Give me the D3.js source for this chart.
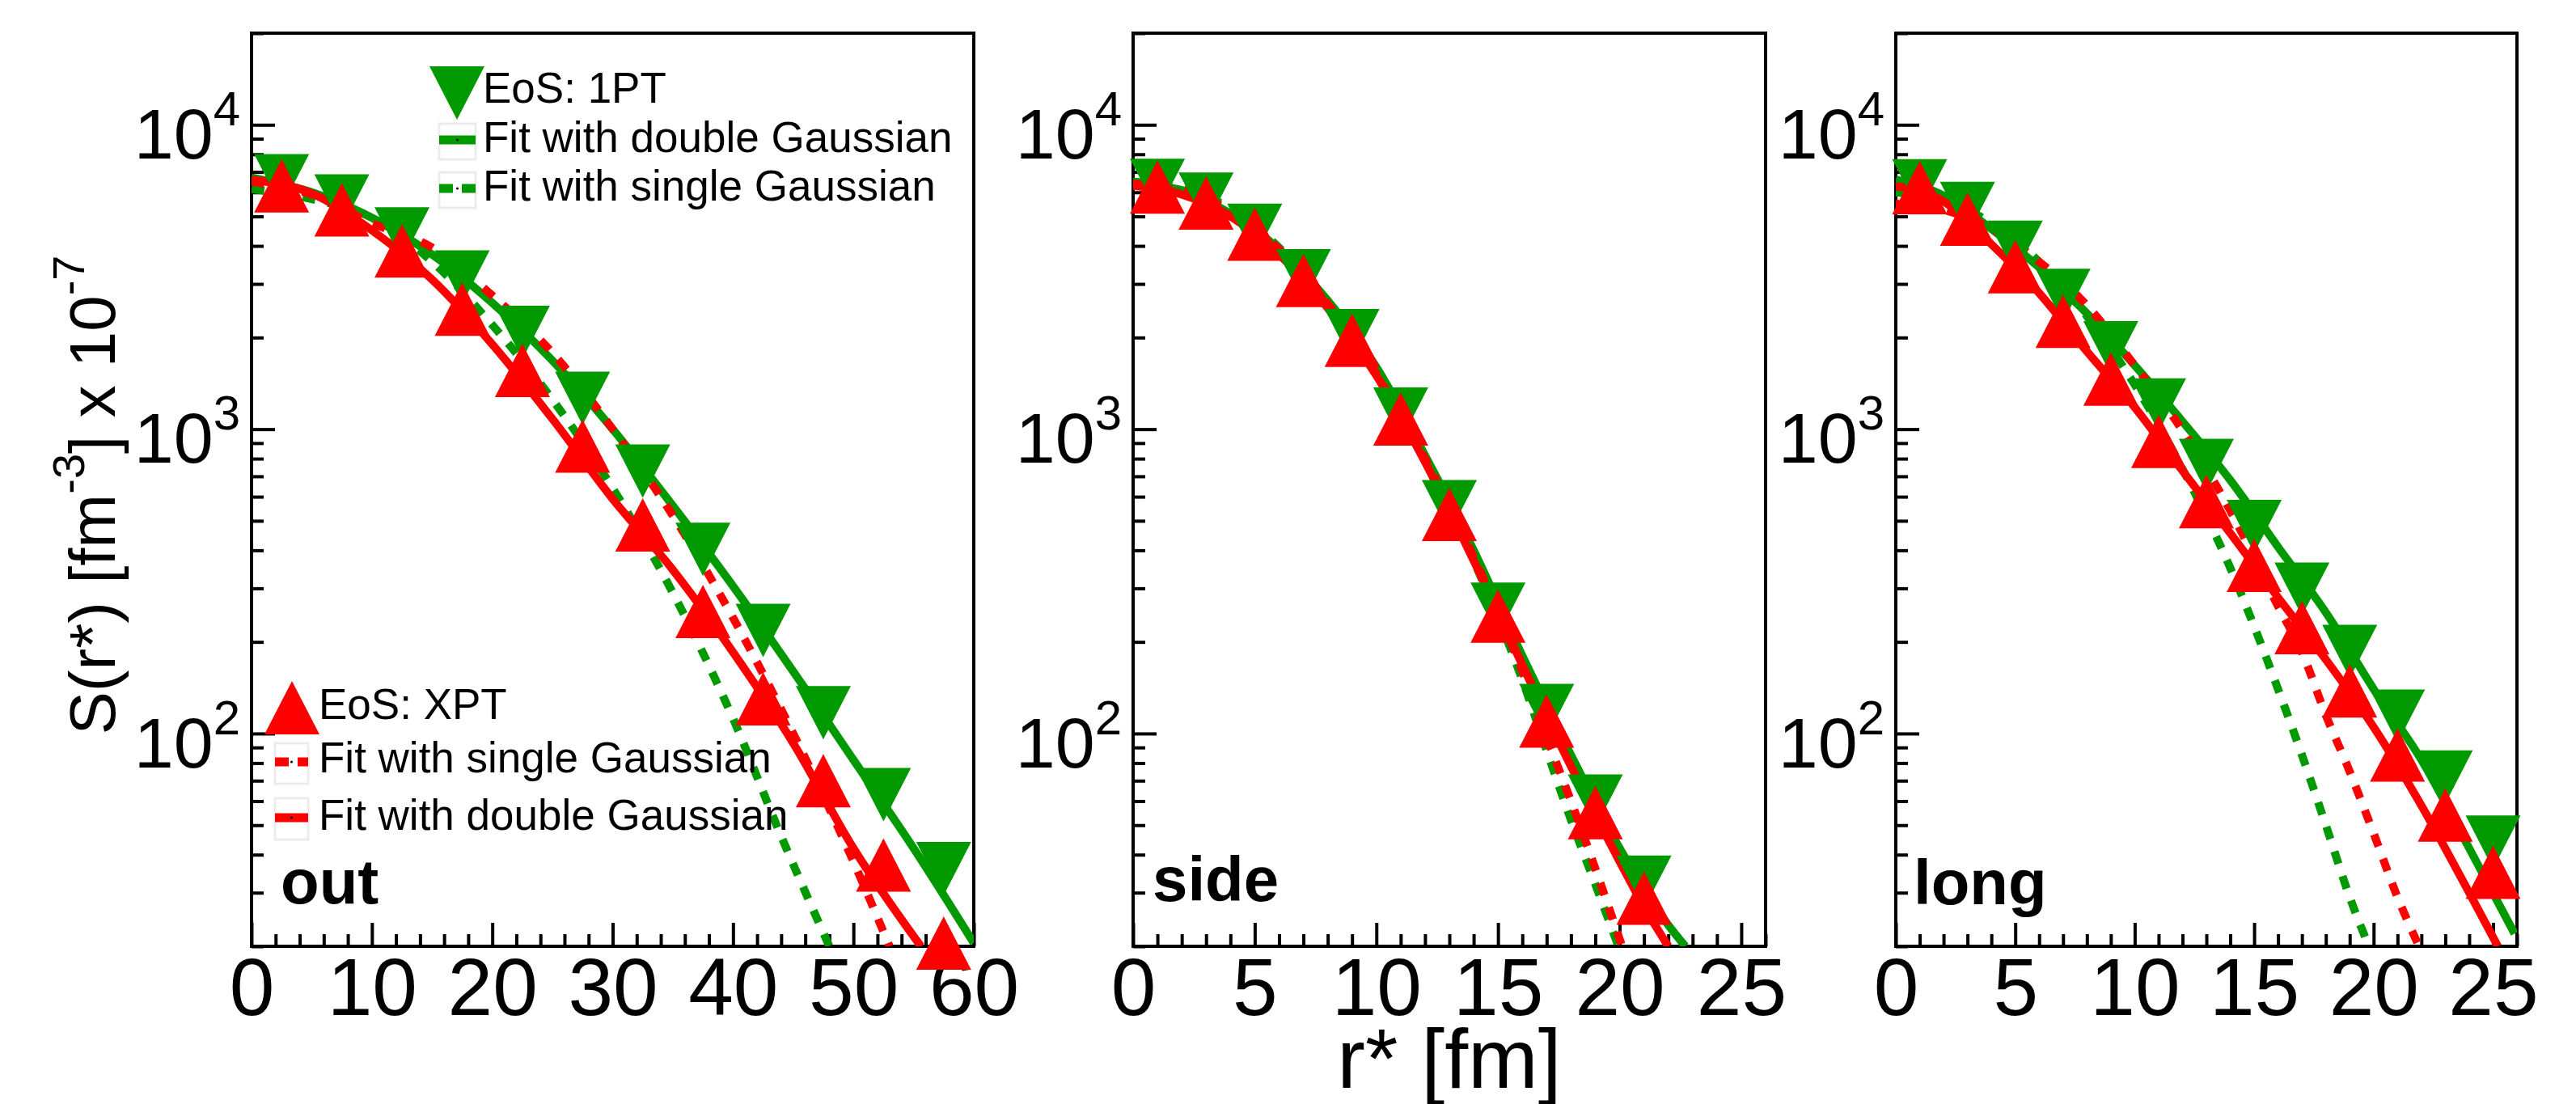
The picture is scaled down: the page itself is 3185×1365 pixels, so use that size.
<!DOCTYPE html>
<html>
<head>
<meta charset="utf-8">
<script src="https://cdn.jsdelivr.net/npm/d3@7"></script>
<style>
  body { margin: 0; background: #fff; }
  text { font-family: "Liberation Sans", Arial, Helvetica, sans-serif; }
</style>
</head>
<body>
<div id="chart"></div>
<script>
// ---- data ----
// out
const rOut = [2.5, 7.5, 12.5, 17.5, 22.5, 27.5, 32.5, 37.5, 42.5, 47.5, 52.5, 57.5];
const out1PT = [6550, 5620, 4380, 3160, 2080, 1263, 728, 403, 218, 117, 63, 36];
const outXPT = [6300, 5250, 3850, 2480, 1560, 880, 485, 252, 130, 70, 37, 20.5];
const fitOut1PTDouble = [[0,6700],[5,6000],[10,4950],[15,3750],[20,2600],[25,1680],[30,1000],[35,560],[40,305],[45,160],[50,82],[55,42],[60,20.5]];
const fitOut1PTSingle = [[0,6150],[5,5700],[10,4950],[15,3550],[20,2200],[25,1250],[30,640],[35,290],[40,112],[44,46],[48,20]];
const fitOutXPTSingle = [[0,6500],[5,5900],[10,4750],[15,3950],[20,2750],[25,1780],[30,1000],[35,520],[40,240],[45,100],[50,38],[53,20]];
const fitOutXPTDouble = [[0,6600],[5,5950],[10,4500],[15,3100],[20,1900],[25,1080],[30,590],[35,345],[40,185],[45,93],[50,42],[55.6,20]];

// side
const rSide = [1, 3, 5, 7, 9, 11, 13, 15, 17, 19, 21];
const side1PT = [6320, 5700, 4500, 3190, 2030, 1120, 556, 256, 119, 60, 32.5];
const sideXPT = [6240, 5530, 4370, 3080, 1960, 1080, 525, 243, 110, 55, 28.8];
const fitSide1PTDouble = [[0,6400],[2,6100],[4,5100],[6,3900],[8,2650],[10,1600],[12,820],[14,400],[16,180],[18,85],[20,42],[22,23.5],[22.7,20]];
const fitSide1PTSingle = [[0,6500],[2,6200],[4,5300],[6,3950],[8,2600],[10,1520],[12,800],[14,370],[16,150],[17,88],[18,52],[19,32],[20,19.5]];
const fitSideXPTSingle = [[0,6400],[2,6100],[4,5200],[6,3900],[8,2580],[10,1520],[12,800],[14,380],[16,160],[17,97],[18,60],[19,36],[20.1,20]];
const fitSideXPTDouble = [[0,6300],[2,5900],[4,5000],[6,3750],[8,2500],[10,1500],[12,780],[14,370],[16,168],[18,78],[20,38],[21,27],[22,20]];

// long
const rLong = [1, 3, 5, 7, 9, 11, 13, 15, 17, 19, 21, 23, 25];
const long1PT = [6300, 5310, 3960, 2750, 1850, 1200, 760, 479, 298, 186, 114, 72, 44];
const longXPT = [6220, 4900, 3420, 2260, 1460, 912, 578, 357, 223, 138, 85, 54, 35];
const fitLong1PTDouble = [[0,6600],[2,5850],[4,4550],[6,3400],[8,2400],[10,1620],[12,1060],[14,680],[16,410],[18,250],[20,140],[22,82],[24,42],[25.9,22]];
const fitLong1PTSingle = [[0,6000],[2,5650],[4,4750],[6,3550],[8,2350],[10,1400],[12,740],[14,350],[15,225],[16,140],[17,85],[18,50],[19,29],[19.8,20]];
const fitLongXPTSingle = [[0,5500],[2,5250],[4,4550],[6,3550],[8,2550],[10,1620],[12,990],[14,540],[16,262],[17,185],[18,115],[19,75],[20,47],[21,29],[21.9,20]];
const fitLongXPTDouble = [[0,6300],[2,5600],[4,4050],[6,2800],[8,1800],[10,1180],[12,730],[14,455],[16,280],[18,175],[20,105],[22,58],[24,30],[25.2,20]];

// axes
const yDomain = [20, 20000];
const yMajor = [100, 1000, 10000];
const xTicksOut = [0, 10, 20, 30, 40, 50, 60];
const xTicksSide = [0, 5, 10, 15, 20, 25];
const xTicksLong = [0, 5, 10, 15, 20, 25];

// ---- drawing ----
const width = 3185, height = 1365;
const green = "#009900", red = "#ff0000";
const top_ = 41, bottom = 1170;

const svg = d3.select("#chart").append("svg")
  .attr("width", width).attr("height", height)
  .style("display", "block");
svg.append("rect").attr("width", width).attr("height", height).attr("fill", "#fff");

const panels = [
  {key: "out", left: 311, right: 1204, xMax: 60, major: xTicksOut, minorStep: 2,
   r: rOut, s1: out1PT, sx: outXPT,
   fits: [[fitOut1PTSingle, green, true], [fitOut1PTDouble, green, false], [fitOutXPTSingle, red, true], [fitOutXPTDouble, red, false]],
   tagX: 347, tagY: 1117},
  {key: "side", left: 1401, right: 2183, xMax: 26, major: xTicksSide, minorStep: 1,
   r: rSide, s1: side1PT, sx: sideXPT,
   fits: [[fitSide1PTSingle, green, true], [fitSide1PTDouble, green, false], [fitSideXPTSingle, red, true], [fitSideXPTDouble, red, false]],
   tagX: 1425, tagY: 1114},
  {key: "long", left: 2344, right: 3112, xMax: 26, major: xTicksLong, minorStep: 1,
   r: rLong, s1: long1PT, sx: longXPT,
   fits: [[fitLong1PTSingle, green, true], [fitLong1PTDouble, green, false], [fitLongXPTSingle, red, true], [fitLongXPTDouble, red, false]],
   tagX: 2366, tagY: 1118}
];

// triangle markers centred on their bounding box (ROOT style)
const mw = 68, mh = 66;
const triUp = `M0,${-mh/2}L${mw/2},${mh/2}L${-mw/2},${mh/2}Z`;
const triDown = `M0,${mh/2}L${mw/2},${-mh/2}L${-mw/2},${-mh/2}Z`;

function styleAxis(g, fontSize) {
  g.select(".domain").remove();
  g.attr("font-family", null).attr("font-size", fontSize);
  g.selectAll(".tick line").attr("stroke", "#000").attr("stroke-width", 4);
  g.selectAll(".tick text").attr("fill", "#000");
}

function drawPanel(p) {
  const x = d3.scaleLinear().domain([0, p.xMax]).range([p.left, p.right]);
  const y = d3.scaleLog().domain(yDomain).range([bottom, top_]);

  // frame
  svg.append("rect")
    .attr("x", p.left).attr("y", top_)
    .attr("width", p.right - p.left).attr("height", bottom - top_)
    .attr("fill", "none").attr("stroke", "#000").attr("stroke-width", 4);

  // x axis, ticks pointing inside
  const minorX = d3.range(0, p.xMax + 1e-9, p.minorStep).filter(v => !p.major.includes(v));
  svg.append("g").attr("transform", `translate(0,${bottom})`)
    .call(d3.axisBottom(x).tickValues(minorX).tickSize(-15).tickFormat(""))
    .call(g => styleAxis(g, 100));
  svg.append("g").attr("transform", `translate(0,${bottom})`)
    .call(d3.axisBottom(x).tickValues(p.major).tickSize(-29).tickPadding(14).tickFormat(d3.format("d")))
    .call(g => styleAxis(g, 100));

  // y axis (log), minor ticks 2..9 each decade
  const minorY = y.ticks().filter(v => !yMajor.includes(v));
  svg.append("g").attr("transform", `translate(${p.left},0)`)
    .call(d3.axisLeft(y).tickValues(minorY).tickSize(-15).tickFormat(""))
    .call(g => styleAxis(g, 88));
  svg.append("g").attr("transform", `translate(${p.left},0)`)
    .call(d3.axisLeft(y).tickValues(yMajor).tickSize(-29).tickPadding(14).tickFormat(""))
    .call(g => styleAxis(g, 88))
    .call(g => g.selectAll(".tick text").each(function(d) {
      const t = d3.select(this).attr("dy", "0.47em");
      t.append("tspan").text("10");
      t.append("tspan").attr("dy", -41).attr("font-size", 60).text(Math.round(Math.log10(d)));
    }));

  // fit curves, clipped to the frame
  const clipId = "clip-" + p.key;
  svg.append("clipPath").attr("id", clipId)
    .append("rect").attr("x", p.left).attr("y", top_)
    .attr("width", p.right - p.left).attr("height", bottom - top_);

  const line = d3.line()
    .x(d => x(d[0]))
    .y(d => y(d[1]))
    .curve(d3.curveMonotoneX);

  svg.append("g").attr("clip-path", `url(#${clipId})`)
    .selectAll("path")
    .data(p.fits)
    .enter()
    .append("path")
    .attr("d", d => line(d[0]))
    .attr("fill", "none")
    .attr("stroke", d => d[1])
    .attr("stroke-width", 10)
    .attr("stroke-dasharray", d => d[2] ? "16,16" : null);

  // markers: 1PT down triangles then XPT up triangles on top
  svg.append("g").selectAll("path")
    .data(p.r.map((r, i) => [r, p.s1[i]]))
    .enter().append("path")
    .attr("d", triDown)
    .attr("transform", d => `translate(${x(d[0])},${y(d[1])})`)
    .attr("fill", green);
  svg.append("g").selectAll("path")
    .data(p.r.map((r, i) => [r, p.sx[i]]))
    .enter().append("path")
    .attr("d", triUp)
    .attr("transform", d => `translate(${x(d[0])},${y(d[1])})`)
    .attr("fill", red);

  svg.append("text")
    .attr("x", p.tagX).attr("y", p.tagY)
    .attr("font-size", 78).attr("font-weight", "bold")
    .text(p.key);
}

panels.forEach(drawPanel);

// ---- legends (inside the "out" pad) ----
function legendLine(x0, x1, yc, boxTop, boxBottom, color, dotted) {
  svg.append("rect")
    .attr("x", x0).attr("y", boxTop)
    .attr("width", x1 - x0).attr("height", boxBottom - boxTop)
    .attr("fill", "none").attr("stroke", "#ececec").attr("stroke-width", 3);
  svg.append("line")
    .attr("x1", x0).attr("x2", x1).attr("y1", yc).attr("y2", yc)
    .attr("stroke", color).attr("stroke-width", 11)
    .attr("stroke-dasharray", dotted ? "17,11" : null);
  svg.append("circle").attr("cx", (x0 + x1) / 2).attr("cy", yc).attr("r", 1.5).attr("fill", "#000");
}
function legendText(x0, yb, s) {
  svg.append("text").attr("x", x0).attr("y", yb).attr("font-size", 53).text(s);
}

// top legend: 1PT
svg.append("path").attr("d", triDown).attr("transform", "translate(565,115)").attr("fill", green);
legendText(597, 127, "EoS: 1PT");
legendLine(543, 588, 173, 153, 197, green, false);
legendText(597, 188, "Fit with double Gaussian");
legendLine(543, 588, 233, 213, 257, green, true);
legendText(597, 248, "Fit with single Gaussian");

// bottom legend: XPT
svg.append("path").attr("d", triUp).attr("transform", "translate(361,875)").attr("fill", red);
legendText(394, 889, "EoS: XPT");
legendLine(340, 381, 942, 919, 969, red, true);
legendText(394, 955, "Fit with single Gaussian");
legendLine(340, 381, 1011, 987, 1038, red, false);
legendText(394, 1026, "Fit with double Gaussian");

// ---- axis titles ----
const yTitle = svg.append("text")
  .attr("transform", "translate(142,612) rotate(-90)")
  .attr("text-anchor", "middle")
  .attr("font-size", 80);
yTitle.append("tspan").text("S(r*) [fm");
yTitle.append("tspan").attr("dy", -38).attr("font-size", 56).text("-3");
yTitle.append("tspan").attr("dy", 38).text("] x 10");
yTitle.append("tspan").attr("dy", -38).attr("font-size", 56).text("-7");

svg.append("text")
  .attr("x", 1792).attr("y", 1345)
  .attr("text-anchor", "middle")
  .attr("font-size", 104)
  .text("r* [fm]");
</script>
</body>
</html>
